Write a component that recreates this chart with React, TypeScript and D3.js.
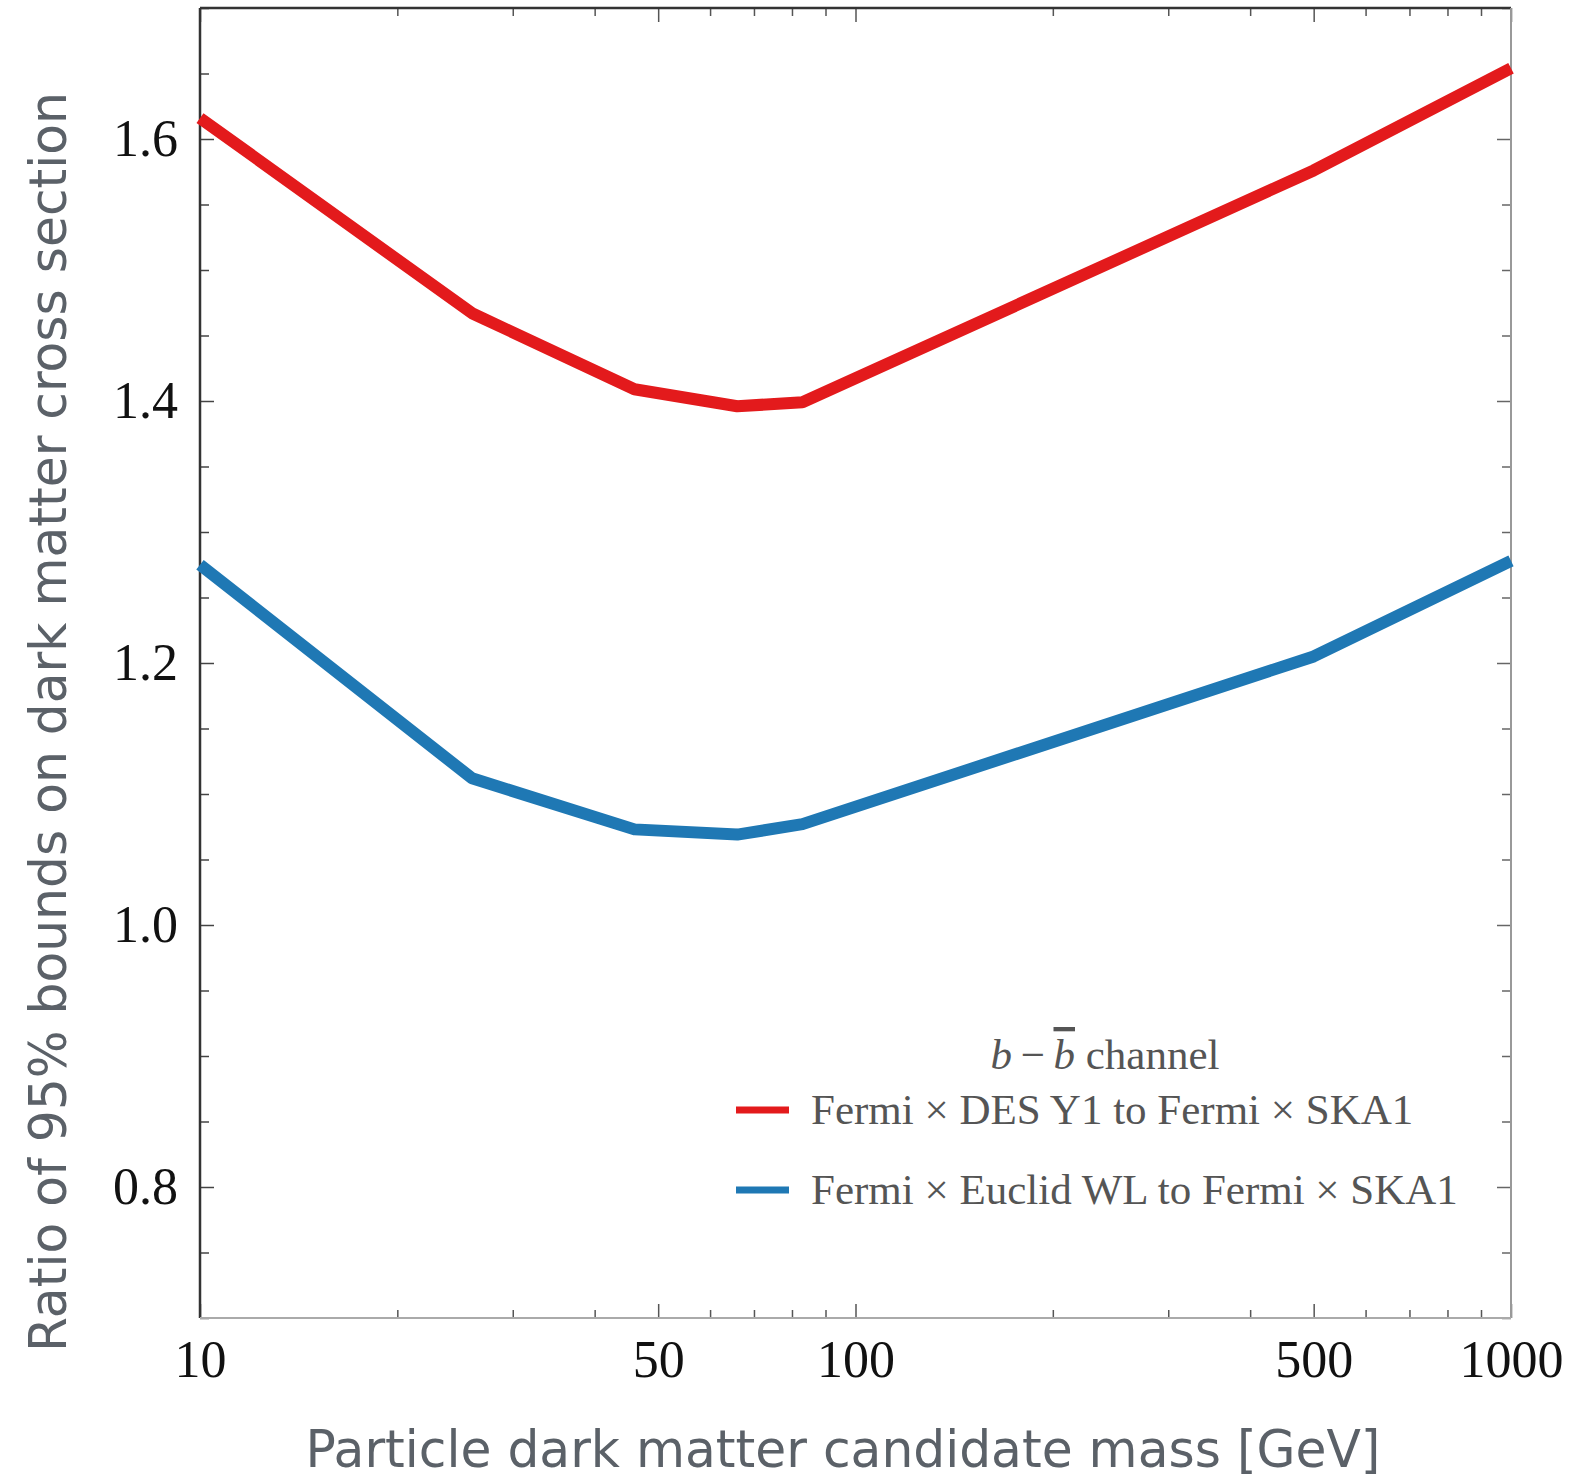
import { useEffect, useRef } from 'react';
import { axisBottom, axisLeft, axisRight, axisTop, line, range, scaleLog, scaleLinear, select } from 'd3';

const masses = [10, 26, 46, 66, 83, 500, 1000];
const desY1Ratio = [1.616, 1.467, 1.409, 1.396, 1.399, 1.576, 1.654];
const euclidRatio = [1.275, 1.112, 1.073, 1.069, 1.077, 1.205, 1.278];

const seriesNames = ['Fermi × DES Y1 to Fermi × SKA1', 'Fermi × Euclid WL to Fermi × SKA1'];
const seriesColors = ['#e31a1c', '#1f78b4'];

const xLabelTicks = [10, 50, 100, 500, 1000];
const xMinorTicks = [20, 30, 40, 60, 70, 80, 90, 200, 300, 400, 600, 700, 800, 900];
const yMajorTicks = [0.8, 1.0, 1.2, 1.4, 1.6];

const W = 1572;
const H = 1479;
const m = { left: 200, right: 61, top: 8, bottom: 161 };

const serif = '"Liberation Serif", "Times New Roman", serif';
const sans = '"DejaVu Sans", Lato, sans-serif';

const App = () => {
  const ref = useRef<SVGSVGElement>(null);

  useEffect(() => {
    const svg = select(ref.current);
    svg.selectAll('*').remove();
    const iw = W - m.left - m.right;
    const ih = H - m.top - m.bottom;

    const x = scaleLog().domain([10, 1000]).range([0, iw]);
    const y = scaleLinear().domain([0.7, 1.7]).range([ih, 0]);

    const g = svg.append('g').attr('transform', `translate(${m.left},${m.top})`);

    const yMinor = range(0.7, 1.701, 0.05).filter(
      (v) => !yMajorTicks.some((t) => Math.abs(t - v) < 1e-6),
    );

    const styleAxis = (sel: any, color: string) => {
      sel.select('.domain').remove();
      sel.selectAll('.tick line').attr('stroke', color).attr('stroke-width', 1.5);
    };

    // minor ticks (all four sides, inward)
    g.append('g').call(axisBottom(x).tickValues(xMinorTicks).tickSize(-8).tickFormat(() => ''))
      .attr('transform', `translate(0,${ih})`).call(styleAxis, '#555');
    g.append('g').call(axisTop(x).tickValues(xMinorTicks).tickSize(-8).tickFormat(() => ''))
      .call(styleAxis, '#555');
    g.append('g').call(axisLeft(y).tickValues(yMinor).tickSize(-9).tickFormat(() => ''))
      .call(styleAxis, '#444');
    g.append('g').call(axisRight(y).tickValues(yMinor).tickSize(-9).tickFormat(() => ''))
      .attr('transform', `translate(${iw},0)`).call(styleAxis, '#666');

    // major ticks with labels
    const xb = g.append('g').attr('transform', `translate(0,${ih})`)
      .call(axisBottom(x).tickValues(xLabelTicks).tickSize(-14).tickPadding(22).tickFormat((d: any) => String(d)));
    styleAxis(xb, '#555');
    xb.selectAll('text').attr('font-family', serif).attr('font-size', 52).attr('fill', '#111').attr('dy', '0.71em');

    g.append('g').call(axisTop(x).tickValues(xLabelTicks).tickSize(-14).tickFormat(() => ''))
      .call(styleAxis, '#555');

    const yl = g.append('g')
      .call(axisLeft(y).tickValues(yMajorTicks).tickSize(-14).tickPadding(22).tickFormat((d: any) => (+d).toFixed(1)));
    styleAxis(yl, '#444');
    yl.selectAll('text').attr('font-family', serif).attr('font-size', 52).attr('fill', '#111');

    g.append('g').attr('transform', `translate(${iw},0)`)
      .call(axisRight(y).tickValues(yMajorTicks).tickSize(-14).tickFormat(() => ''))
      .call(styleAxis, '#666');

    // frame
    g.append('line').attr('x1', 0).attr('x2', iw).attr('y1', 0).attr('y2', 0).attr('stroke', '#333').attr('stroke-width', 2.5);
    g.append('line').attr('x1', 0).attr('x2', 0).attr('y1', 0).attr('y2', ih).attr('stroke', '#333').attr('stroke-width', 2.5);
    g.append('line').attr('x1', iw).attr('x2', iw).attr('y1', 0).attr('y2', ih).attr('stroke', '#999').attr('stroke-width', 2);
    g.append('line').attr('x1', 0).attr('x2', iw).attr('y1', ih).attr('y2', ih).attr('stroke', '#aaa').attr('stroke-width', 2);

    // curves
    const lineGen = line<[number, number]>()
      .x((d) => x(d[0]))
      .y((d) => y(d[1]));
    [desY1Ratio, euclidRatio].forEach((vals, i) => {
      g.append('path')
        .datum(masses.map((mm, j) => [mm, vals[j]] as [number, number]))
        .attr('d', lineGen)
        .attr('fill', 'none')
        .attr('stroke', seriesColors[i])
        .attr('stroke-width', 12)
        .attr('stroke-linejoin', 'round');
    });

    // legend
    const leg = svg.append('g');
    const title = leg.append('text')
      .attr('x', 1105).attr('y', 1069)
      .attr('text-anchor', 'middle')
      .attr('font-family', serif).attr('font-size', 43).attr('fill', '#555');
    title.append('tspan').attr('font-style', 'italic').text('b');
    title.append('tspan').text('\u2009\u2212\u2009');
    title.append('tspan').attr('font-style', 'italic').attr('text-decoration', 'overline').text('b');
    title.append('tspan').text(' channel');

    seriesNames.forEach((name, i) => {
      const ly = 1110 + i * 80;
      leg.append('line').attr('x1', 736).attr('x2', 789).attr('y1', ly).attr('y2', ly)
        .attr('stroke', seriesColors[i]).attr('stroke-width', 7);
      leg.append('text').attr('x', 811).attr('y', ly + 14)
        .attr('font-family', serif).attr('font-size', 43).attr('fill', '#555')
        .text(name);
    });

    // axis titles
    svg.append('text')
      .attr('x', 843).attr('y', 1467)
      .attr('text-anchor', 'middle')
      .attr('font-family', sans).attr('font-size', 52).attr('fill', '#5b6168')
      .attr('textLength', 1075).attr('lengthAdjust', 'spacingAndGlyphs')
      .text('Particle dark matter candidate mass [GeV]');

    svg.append('text')
      .attr('transform', `translate(66,722) rotate(-90)`)
      .attr('text-anchor', 'middle')
      .attr('font-family', sans).attr('font-size', 52).attr('fill', '#5b6168')
      .attr('textLength', 1260).attr('lengthAdjust', 'spacingAndGlyphs')
      .text('Ratio of 95% bounds on dark matter cross section');
  }, []);

  return (
    <svg
      ref={ref}
      width={W}
      height={H}
      style={{ position: 'absolute', left: 0, top: 0, background: '#fff' }}
    />
  );
};

export default App;
